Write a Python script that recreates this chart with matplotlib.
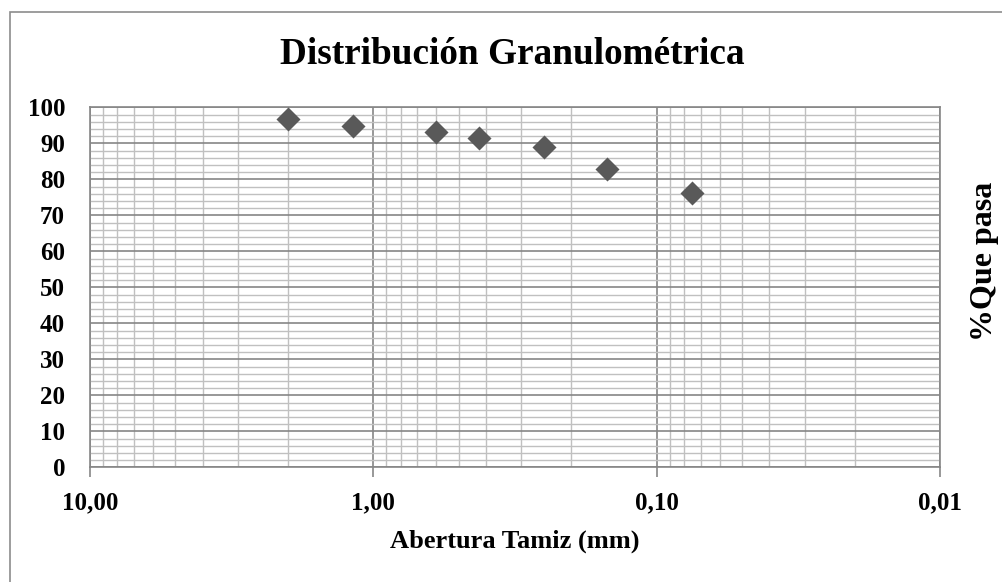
import matplotlib
matplotlib.use("Agg")
import matplotlib.pyplot as plt
from matplotlib.ticker import FixedLocator, LogLocator, MultipleLocator, FuncFormatter
from matplotlib.patches import Rectangle

# Data
abertura_mm = [2.00, 1.18, 0.60, 0.425, 0.25, 0.15, 0.075]
pct_pasa = [96.75, 94.8, 93.1, 91.5, 89.1, 82.9, 76.2]
x_ticks = [10, 1, 0.1, 0.01]
x_tick_labels = ["10,00", "1,00", "0,10", "0,01"]
y_ticks = list(range(0, 101, 10))

title = "Distribución Granulométrica"
xlabel = "Abertura Tamiz (mm)"
ylabel = "%Que pasa"

plt.rcParams['font.family'] = ['Liberation Serif', 'DejaVu Serif']
plt.rcParams['font.weight'] = 'bold'

W, H = 1003, 582
fig = plt.figure(figsize=(W / 100, H / 100), dpi=100)
fig.patch.set_facecolor('white')

# outer chart border (extends beyond the right/bottom edge)
fig.patches.append(Rectangle((10 / W, -0.05), 1.2, 1 - 12 / H + 0.05,
                             transform=fig.transFigure, fill=False,
                             edgecolor='#8c8c8c', linewidth=1.2))

left, right, top, bottom = 90 / W, 940 / W, 107.3 / H, 467.3 / H
ax = fig.add_axes([left, 1 - bottom, right - left, bottom - top])

ax.set_xscale('log')
ax.set_xlim(10, 0.01)
ax.set_ylim(0, 100)

ax.xaxis.set_major_locator(FixedLocator(x_ticks))
ax.xaxis.set_major_formatter(FuncFormatter(lambda v, p: x_tick_labels[x_ticks.index(min(x_ticks, key=lambda t: abs(t - v)))]))
ax.xaxis.set_minor_locator(LogLocator(base=10, subs=range(2, 10), numticks=20))
ax.xaxis.set_minor_formatter(plt.NullFormatter())
ax.yaxis.set_major_locator(FixedLocator(y_ticks))
ax.yaxis.set_minor_locator(MultipleLocator(2))

ax.grid(which='minor', color='#c0c0c0', linewidth=1.0)
ax.grid(which='major', color='#868686', linewidth=1.2)
ax.set_axisbelow(True)

for s in ax.spines.values():
    s.set_color('#868686')
    s.set_linewidth(1.2)

ax.tick_params(axis='x', which='major', direction='out', length=7, width=1.2,
               color='#868686', labelsize=18, pad=10)
ax.tick_params(axis='x', which='minor', length=0)
ax.tick_params(axis='y', which='both', length=0, labelsize=18, pad=18)
for lbl in ax.get_xticklabels() + ax.get_yticklabels():
    lbl.set_fontweight('bold')

ax.scatter(abertura_mm, pct_pasa, marker='D', s=150, color='#595959',
           zorder=5, clip_on=False, linewidths=0)

fig.text(512 / W, 1 - 55 / H, title, ha='center', va='center',
         fontsize=26.8, fontweight='bold')
fig.text(515 / W, 1 - 541 / H, xlabel, ha='center', va='center',
         fontsize=19, fontweight='bold')
fig.text(985 / W, 1 - 261 / H, ylabel, ha='center', va='center',
         fontsize=23, fontweight='bold', rotation=90)

fig.savefig('out.png', dpi=100, facecolor='white')
